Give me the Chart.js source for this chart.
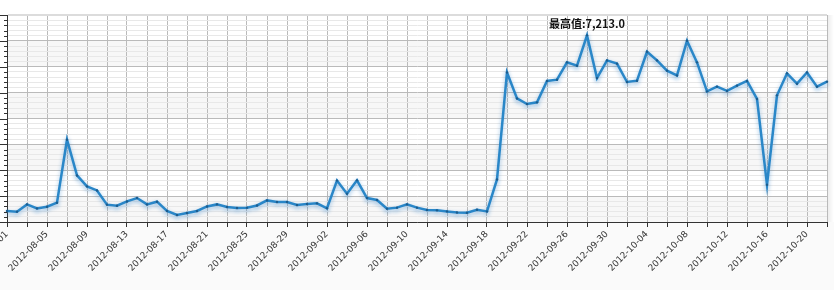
<!DOCTYPE html>
<html>
<head>
<meta charset="utf-8">
<script src="https://cdn.jsdelivr.net/npm/chart.js@4.4.0/dist/chart.umd.min.js"></script>
<style>
  html, body { margin: 0; padding: 0; background: #fff; }
  #box { width: 834px; height: 290px; position: relative; }
</style>
</head>
<body>
<div id="box"><canvas id="grafico"></canvas></div>
<script>
// Datas (categorias)
const datas = [
  '2012-08-01','2012-08-02','2012-08-03','2012-08-04','2012-08-05','2012-08-06','2012-08-07','2012-08-08',
  '2012-08-09','2012-08-10','2012-08-11','2012-08-12','2012-08-13','2012-08-14','2012-08-15','2012-08-16',
  '2012-08-17','2012-08-18','2012-08-19','2012-08-20','2012-08-21','2012-08-22','2012-08-23','2012-08-24',
  '2012-08-25','2012-08-26','2012-08-27','2012-08-28','2012-08-29','2012-08-30','2012-08-31','2012-09-01',
  '2012-09-02','2012-09-03','2012-09-04','2012-09-05','2012-09-06','2012-09-07','2012-09-08','2012-09-09',
  '2012-09-10','2012-09-11','2012-09-12','2012-09-13','2012-09-14','2012-09-15','2012-09-16','2012-09-17',
  '2012-09-18','2012-09-19','2012-09-20','2012-09-21','2012-09-22','2012-09-23','2012-09-24','2012-09-25',
  '2012-09-26','2012-09-27','2012-09-28','2012-09-29','2012-09-30','2012-10-01','2012-10-02','2012-10-03',
  '2012-10-04','2012-10-05','2012-10-06','2012-10-07','2012-10-08','2012-10-09','2012-10-10','2012-10-11',
  '2012-10-12','2012-10-13','2012-10-14','2012-10-15','2012-10-16','2012-10-17','2012-10-18','2012-10-19',
  '2012-10-20','2012-10-21','2012-10-22'
];

// Valores diários
const valores = [
  425, 400, 680, 525, 590, 745, 3180, 1800,
  1375, 1220, 670, 630, 795, 925, 680, 785,
  425, 270, 350, 425, 600, 680, 580, 540,
  555, 640, 835, 775, 775, 655, 695, 720,
  530, 1600, 1095, 1610, 925, 850, 515, 555,
  680, 555, 465, 450, 410, 370, 360, 475,
  410, 1645, 5780, 4775, 4560, 4625, 5450, 5500,
  6170, 6040, 7213, 5565, 6245, 6120, 5410, 5460,
  6580, 6245, 5850, 5665, 7005, 6170, 5050, 5230,
  5065, 5270, 5450, 4755, 1440, 4895, 5745, 5345,
  5780, 5230, 5425
];

// Eixo Y
const yMin = 0;
const yMax = 8000;
const yPassoMaior = 1000;
const yPassoMenor = 200;

// Eixo X: grade a cada 2 dias, rótulo a cada 4
const xPassoGrade = 2;
const xPassoRotulo = 4;

const rotuloMaximo = '最高值:';

// Faixas alternadas e fundo da área dos rótulos
const pluginFundo = {
  id: 'fundo',
  beforeDraw(chart) {
    const { ctx, chartArea, scales } = chart;
    ctx.save();
    ctx.fillStyle = '#fafafa';
    ctx.fillRect(0, chartArea.bottom, chart.width, chart.height - chartArea.bottom);
    ctx.fillStyle = '#f7f7f7';
    for (let v = yMin; v < yMax; v += yPassoMaior * 2) {
      const y1 = scales.y.getPixelForValue(v + yPassoMaior);
      const y0 = scales.y.getPixelForValue(v);
      ctx.fillRect(chartArea.left, y1, chartArea.right - chartArea.left, y0 - y1);
    }
    // sombra na borda direita
    const g = ctx.createLinearGradient(chartArea.right, 0, chart.width, 0);
    g.addColorStop(0, 'rgba(0,0,0,0.08)');
    g.addColorStop(1, 'rgba(0,0,0,0)');
    ctx.fillStyle = g;
    ctx.fillRect(chartArea.right + 1, chartArea.top, chart.width - chartArea.right, chartArea.bottom - chartArea.top);
    ctx.restore();
  }
};

// Sombra da linha
const pluginSombra = {
  id: 'sombra',
  beforeDatasetsDraw(chart) {
    const ctx = chart.ctx;
    ctx.save();
    ctx.shadowColor = 'rgba(30, 120, 200, 0.45)';
    ctx.shadowBlur = 4;
    ctx.shadowOffsetY = 2;
  },
  afterDatasetsDraw(chart) {
    chart.ctx.restore();
  }
};

// Marcas do eixo Y e rótulo do valor máximo
const pluginExtras = {
  id: 'extras',
  afterDraw(chart) {
    const { ctx, chartArea, scales } = chart;
    ctx.save();
    ctx.strokeStyle = '#333';
    ctx.lineWidth = 1;
    scales.y.ticks.forEach(t => {
      const y = Math.round(scales.y.getPixelForValue(t.value)) + 0.5;
      const len = t.value % yPassoMaior === 0 ? 7 : 3;
      ctx.beginPath();
      ctx.moveTo(chartArea.left - len, y);
      ctx.lineTo(chartArea.left, y);
      ctx.stroke();
    });

    // valor máximo
    let iMax = 0;
    valores.forEach((v, i) => { if (v > valores[iMax]) iMax = i; });
    const ponto = chart.getDatasetMeta(0).data[iMax];
    const texto = rotuloMaximo + valores[iMax].toLocaleString('en-US', { minimumFractionDigits: 1, maximumFractionDigits: 1 });
    ctx.font = 'bold 11px "Noto Sans CJK SC"';
    ctx.fillStyle = '#111';
    ctx.textAlign = 'center';
    ctx.textBaseline = 'middle';
    ctx.fillText(texto, ponto.x, ponto.y - 12);
    ctx.restore();
  }
};

new Chart(document.getElementById('grafico'), {
  type: 'line',
  data: {
    labels: datas,
    datasets: [{
      data: valores,
      borderColor: '#2a87c8',
      borderWidth: 2.5,
      pointRadius: 1.2,
      pointBackgroundColor: '#1c5d8e',
      pointBorderWidth: 0,
      tension: 0,
      fill: false
    }]
  },
  options: {
    responsive: true,
    maintainAspectRatio: false,
    animation: false,
    layout: { padding: { top: 15, right: 7, left: 0, bottom: 0 } },
    plugins: {
      legend: { display: false },
      tooltip: { enabled: false }
    },
    scales: {
      x: {
        type: 'category',
        offset: false,
        afterBuildTicks(scale) {
          scale.ticks = scale.ticks.filter(t => t.value % xPassoGrade === 0);
        },
        afterFit(scale) {
          scale.height = 68;
          scale.paddingLeft = 0;
          scale.paddingRight = 0;
        },
        border: { color: '#333', width: 1 },
        grid: {
          color: '#bababa',
          tickColor: '#333',
          tickLength: 5,
          lineWidth: 1
        },
        ticks: {
          autoSkip: false,
          maxRotation: 45,
          minRotation: 45,
          padding: 2,
          color: '#333',
          font: { family: 'DejaVu Sans', size: 9 },
          callback: function(valor) {
            return valor % xPassoRotulo === 0 ? datas[valor] : '';
          }
        }
      },
      y: {
        min: yMin,
        max: yMax,
        afterFit(scale) { scale.width = 7; },
        border: { color: '#333', width: 1 },
        grid: {
          drawTicks: false,
          color: ctx => {
            if (ctx.tick.value === yMax) return '#dcdcdc';
            return ctx.tick.value % yPassoMaior === 0 ? '#bababa' : '#e8e8e8';
          },
          lineWidth: ctx => (ctx.tick.value === yMax ? 2 : 1)
        },
        ticks: {
          display: false,
          stepSize: yPassoMenor
        }
      }
    }
  },
  plugins: [pluginFundo, pluginSombra, pluginExtras]
});
</script>
</body>
</html>
